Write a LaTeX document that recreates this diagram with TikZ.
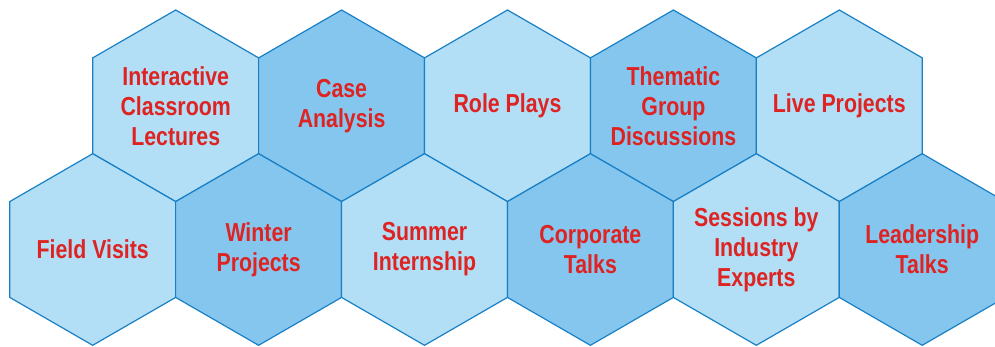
\documentclass[tikz,border=0pt]{standalone}
\usepackage{fontspec}
\newfontfamily\hexfont{Liberation Sans}[FakeStretch=0.82]
\usetikzlibrary{shapes.geometric}
\definecolor{hexlight}{RGB}{179,223,246}
\definecolor{hexdark}{RGB}{133,198,239}
\definecolor{hexline}{RGB}{25,128,197}
\definecolor{hexred}{RGB}{222,35,35}
\begin{document}
\begin{tikzpicture}[x=1pt,y=-1pt,
    cell/.style={regular polygon,regular polygon sides=6,shape border rotate=30,
      minimum size=191.6pt,inner sep=0pt,draw=hexline,line width=1.2pt},
    celltext/.style={text=hexred,align=center,inner sep=0pt,
      font=\hexfont\bfseries\fontsize{26}{30}\selectfont},
    light/.style={cell,fill=hexlight},
    dark/.style={cell,fill=hexdark}]
    \useasboundingbox (0,0) rectangle (995,347);
    \clip (0,0) rectangle (995,347);
    % upper row
    \node[light,label={[celltext]center:Interactive\\Classroom\\Lectures}] (lectures) at (175.7,105.8) {};
    \node[dark,label={[celltext]center:Case\\Analysis}] (case) at (341.6,105.8) {};
    \node[light,label={[celltext]center:Role Plays}] (roleplay) at (507.5,105.8) {};
    \node[dark,label={[celltext]center:Thematic\\Group\\Discussions}] (thematic) at (673.4,105.8) {};
    \node[light,label={[celltext]center:Live Projects}] (live) at (839.3,105.8) {};
    % lower row
    \node[light,label={[celltext]center:Field Visits}] (field) at (92.7,249.5) {};
    \node[dark,label={[celltext]center:Winter\\Projects}] (winter) at (258.6,249.5) {};
    \node[light,label={[celltext]center:Summer\\Internship}] (summer) at (424.5,249.5) {};
    \node[dark,label={[celltext]center:Corporate\\Talks}] (corporate) at (590.4,249.5) {};
    \node[light,label={[celltext]center:Sessions by\\Industry\\Experts}] (experts) at (756.3,249.5) {};
    \node[dark,label={[celltext]center:Leadership\\Talks}] (leadership) at (922.2,249.5) {};
\end{tikzpicture}
\end{document}
